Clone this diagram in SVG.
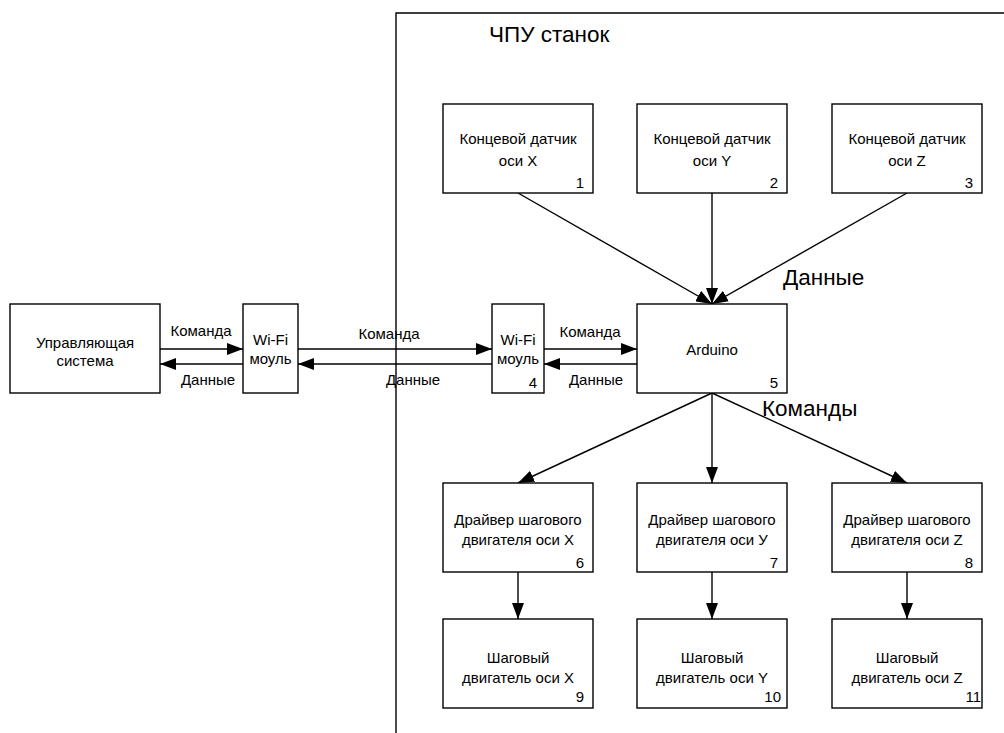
<svg xmlns="http://www.w3.org/2000/svg" width="1004" height="733" viewBox="0 0 1004 733">
<defs>
<style>
.box{fill:#fff;stroke:#000;stroke-width:1.4}
.t{font-family:"Liberation Sans",Arial,sans-serif;font-size:15px;fill:#000;text-anchor:middle}
.n{font-family:"Liberation Sans",Arial,sans-serif;font-size:15px;fill:#000;text-anchor:end}
.big{font-family:"Liberation Sans",Arial,sans-serif;font-size:22.5px;fill:#000}
.c{stroke:#000;stroke-width:1.4;fill:none;marker-end:url(#ah)}
.frame{stroke:#000;stroke-width:1.4;fill:none}
</style>
<marker id="ah" viewBox="0 0 16 12" refX="16" refY="6" markerWidth="16" markerHeight="12" markerUnits="userSpaceOnUse" orient="auto">
<path d="M0,0 L16,6 L0,12 Z" fill="#000"/>
</marker>
</defs>
<rect width="1004" height="733" fill="#fff"/>
<g id="frame">
<path class="frame" d="M396,733 L396,13 L1004,13"/>
<text class="big" x="489" y="42">ЧПУ станок</text>
</g>
<g id="connectors">
<line class="c" x1="160" y1="349" x2="243" y2="349"/>
<line class="c" x1="243" y1="364" x2="160" y2="364"/>
<line class="c" x1="298" y1="349" x2="492" y2="349"/>
<line class="c" x1="492" y1="364" x2="298" y2="364"/>
<line class="c" x1="544" y1="349" x2="637" y2="349"/>
<line class="c" x1="637" y1="364" x2="544" y2="364"/>
<line class="c" x1="518" y1="193" x2="712" y2="304"/>
<line class="c" x1="712" y1="193" x2="712" y2="304"/>
<line class="c" x1="907" y1="193" x2="712" y2="304"/>
<line class="c" x1="712" y1="393" x2="518" y2="483"/>
<line class="c" x1="712" y1="393" x2="712" y2="483"/>
<line class="c" x1="712" y1="393" x2="907" y2="483"/>
<line class="c" x1="518" y1="572" x2="518" y2="619"/>
<line class="c" x1="712" y1="572" x2="712" y2="619"/>
<line class="c" x1="907" y1="572" x2="907" y2="619"/>
<text class="t" x="201" y="336">Команда</text>
<text class="t" x="208" y="385">Данные</text>
<text class="t" x="389" y="339">Команда</text>
<text class="t" x="413" y="385">Данные</text>
<text class="t" x="590" y="337">Команда</text>
<text class="t" x="596" y="385">Данные</text>
<text class="big" x="783" y="285">Данные</text>
<text class="big" x="762" y="416">Команды</text>
</g>
<g id="n-control">
<rect class="box" x="10" y="304" width="150" height="89"/>
<text class="t" x="85" y="348">Управляющая</text>
<text class="t" x="85" y="366">система</text>
</g>
<g id="n-wifi1">
<rect class="box" x="243" y="304" width="55" height="89"/>
<text class="t" x="270.5" y="345">Wi-Fi</text>
<text class="t" x="270.5" y="364">моуль</text>
</g>
<g id="n-wifi4">
<rect class="box" x="492" y="304" width="52" height="89"/>
<text class="t" x="518" y="345">Wi-Fi</text>
<text class="t" x="518" y="364">моуль</text>
<text class="n" x="537" y="388">4</text>
</g>
<g id="n-sensor-x">
<rect class="box" x="443" y="104" width="150" height="89"/>
<text class="t" x="518" y="144">Концевой датчик</text>
<text class="t" x="518" y="166">оси X</text>
<text class="n" x="584" y="188">1</text>
</g>
<g id="n-sensor-y">
<rect class="box" x="637" y="104" width="150" height="89"/>
<text class="t" x="712" y="144">Концевой датчик</text>
<text class="t" x="712" y="166">оси Y</text>
<text class="n" x="778" y="188">2</text>
</g>
<g id="n-sensor-z">
<rect class="box" x="832" y="104" width="150" height="89"/>
<text class="t" x="907" y="144">Концевой датчик</text>
<text class="t" x="907" y="166">оси Z</text>
<text class="n" x="973" y="188">3</text>
</g>
<g id="n-arduino">
<rect class="box" x="637" y="304" width="150" height="89"/>
<text class="t" x="712" y="355">Arduino</text>
<text class="n" x="778" y="388">5</text>
</g>
<g id="n-driver-x">
<rect class="box" x="443" y="483" width="150" height="89"/>
<text class="t" x="518" y="525">Драйвер шагового</text>
<text class="t" x="518" y="545">двигателя оси X</text>
<text class="n" x="584" y="568">6</text>
</g>
<g id="n-driver-y">
<rect class="box" x="637" y="483" width="150" height="89"/>
<text class="t" x="712" y="525">Драйвер шагового</text>
<text class="t" x="712" y="545">двигателя оси У</text>
<text class="n" x="778" y="568">7</text>
</g>
<g id="n-driver-z">
<rect class="box" x="832" y="483" width="150" height="89"/>
<text class="t" x="907" y="525">Драйвер шагового</text>
<text class="t" x="907" y="545">двигателя оси Z</text>
<text class="n" x="973" y="568">8</text>
</g>
<g id="n-motor-x">
<rect class="box" x="443" y="619" width="150" height="89"/>
<text class="t" x="518" y="663">Шаговый</text>
<text class="t" x="518" y="683">двигатель оси X</text>
<text class="n" x="584" y="702">9</text>
</g>
<g id="n-motor-y">
<rect class="box" x="637" y="619" width="150" height="89"/>
<text class="t" x="712" y="663">Шаговый</text>
<text class="t" x="712" y="683">двигатель оси Y</text>
<text class="n" x="781" y="702">10</text>
</g>
<g id="n-motor-z">
<rect class="box" x="832" y="619" width="150" height="89"/>
<text class="t" x="907" y="663">Шаговый</text>
<text class="t" x="907" y="683">двигатель оси Z</text>
<text class="n" x="981" y="702">11</text>
</g>
</svg>
